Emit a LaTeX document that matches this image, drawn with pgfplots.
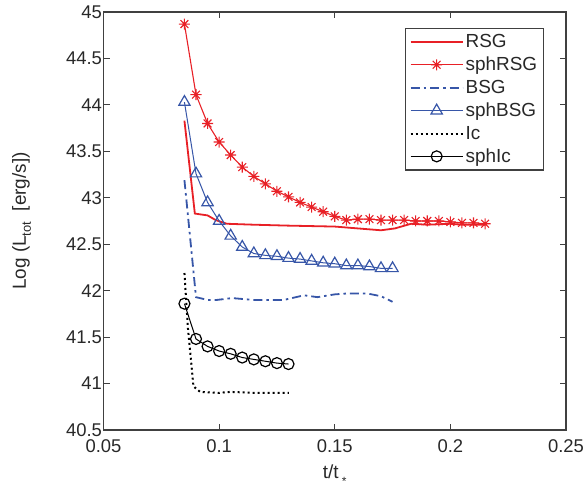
\documentclass[border=0pt]{standalone}
\usepackage{pgfplots}
\pgfplotsset{compat=1.18}
\usepackage{fontspec}
\setmainfont{Liberation Sans}
\usetikzlibrary{calc}
\definecolor{myred}{RGB}{232,32,38}
\definecolor{myblue}{RGB}{55,86,168}
\definecolor{axgray}{RGB}{64,64,64}
\definecolor{txtgray}{RGB}{40,40,40}
\newcommand\fs{\fontsize{18.5}{22}\selectfont}
\newcommand\fl{\fontsize{19}{22}\selectfont}
\pgfdeclareplotmark{ast8}{%
  \pgfpathmoveto{\pgfpoint{-\pgfplotmarksize}{0pt}}\pgfpathlineto{\pgfpoint{\pgfplotmarksize}{0pt}}%
  \pgfpathmoveto{\pgfpoint{0pt}{-\pgfplotmarksize}}\pgfpathlineto{\pgfpoint{0pt}{\pgfplotmarksize}}%
  \pgfpathmoveto{\pgfpoint{-0.7071\pgfplotmarksize}{-0.7071\pgfplotmarksize}}\pgfpathlineto{\pgfpoint{0.7071\pgfplotmarksize}{0.7071\pgfplotmarksize}}%
  \pgfpathmoveto{\pgfpoint{-0.7071\pgfplotmarksize}{0.7071\pgfplotmarksize}}\pgfpathlineto{\pgfpoint{0.7071\pgfplotmarksize}{-0.7071\pgfplotmarksize}}%
  \pgfusepathqstroke}
\begin{document}
\begin{tikzpicture}
\begin{axis}[
  width=462.5bp, height=418bp, scale only axis,
  xmin=0.05, xmax=0.25, ymin=40.5, ymax=45,
  xtick={0.05,0.1,0.15,0.2,0.25},
  ytick={40.5,41,41.5,42,42.5,43,43.5,44,44.5,45},
  tick align=inside, major tick length=6bp,
  axis line style={axgray, line width=1.2bp},
  every tick/.style={axgray, line width=1bp},
  tick label style={font=\fs, text=txtgray},
  /pgf/number format/assume math mode=true,
  xticklabel style={/pgf/number format/fixed, /pgf/number format/precision=2, yshift=-6bp},
  yticklabel style={/pgf/number format/fixed, /pgf/number format/precision=1, xshift=2bp},
  xlabel style={font=\fl, text=txtgray, yshift=-5bp},
  every axis y label/.style={at={(axis description cs:0,0.5)}, rotate=90, anchor=center, yshift=82bp, font=\fl, text=txtgray},
  xlabel={t/t\,\raisebox{-0.7ex}{\fontsize{12}{12}\selectfont *}},
  ylabel={Log (L\raisebox{-0.5ex}{\fontsize{13}{13}\selectfont tot}\ \ [erg/s])},
  legend style={at={(0.952,0.962)}, anchor=north east, draw=axgray, line width=1.2bp,
    font=\fl, text=txtgray, row sep=4bp, inner sep=4bp},
  legend cell align=left,
  legend image code/.code={\draw[mark repeat=2,mark phase=2,#1] plot coordinates {(0bp,0bp) (26bp,0bp) (52bp,0bp)};},
]
\addplot[myred, line width=1.8bp] coordinates {
(0.085,43.83) (0.0895,42.83) (0.095,42.81) (0.0985,42.76) (0.1034,42.72) (0.115,42.71) (0.13,42.70)
(0.15,42.69) (0.16,42.67) (0.17,42.65) (0.176,42.67) (0.183,42.72) (0.19,42.71) (0.2,42.72) (0.205,42.71) (0.215,42.71)};
\addlegendentry{RSG}
\addplot[myred, line width=1.1bp, mark=ast8, mark size=5.5bp, mark options={line width=1.1bp}] coordinates {
(0.085,44.87) (0.09,44.11) (0.095,43.80) (0.1,43.60) (0.105,43.46) (0.11,43.33) (0.115,43.23) (0.12,43.15)
(0.125,43.07) (0.13,43.01) (0.135,42.95) (0.14,42.90) (0.145,42.85) (0.15,42.80) (0.155,42.76) (0.16,42.77)
(0.165,42.77) (0.17,42.76) (0.175,42.76) (0.18,42.76) (0.185,42.75) (0.19,42.75) (0.195,42.75) (0.2,42.74)
(0.205,42.73) (0.21,42.73) (0.215,42.72)};
\addlegendentry{sphRSG}
\addplot[myblue, line width=1.8bp, dash pattern=on 9bp off 4bp on 2.5bp off 4bp] coordinates {
(0.085,43.19) (0.09,41.93) (0.095,41.90) (0.099,41.90) (0.1056,41.92) (0.115,41.90) (0.128,41.90)
(0.1367,41.95) (0.1425,41.93) (0.15,41.96) (0.1555,41.97) (0.164,41.97) (0.17,41.94) (0.175,41.88)};
\addlegendentry{BSG}
\addplot[myblue, line width=1bp, mark=triangle, mark size=6.5bp, mark options={line width=1.2bp, solid}] coordinates {
(0.085,44.03) (0.09,43.26) (0.095,42.95) (0.1,42.75) (0.105,42.59) (0.11,42.47) (0.115,42.40) (0.12,42.38)
(0.125,42.37) (0.13,42.35) (0.135,42.34) (0.14,42.32) (0.145,42.30) (0.15,42.29) (0.155,42.27) (0.16,42.27)
(0.165,42.26) (0.17,42.24) (0.175,42.24)};
\addlegendentry{sphBSG}
\addplot[black, line width=2bp, dash pattern=on 2bp off 3bp] coordinates {
(0.085,42.19) (0.0865,41.60) (0.0889,40.97) (0.0918,40.91) (0.1,40.90) (0.1049,40.91) (0.115,40.90) (0.1302,40.90)};
\addlegendentry{Ic}
\addplot[black, line width=1bp, mark=o, mark size=5.5bp, mark options={line width=1.2bp}] coordinates {
(0.085,41.86) (0.09,41.48) (0.095,41.40) (0.1,41.35) (0.105,41.32) (0.11,41.28) (0.115,41.26) (0.12,41.24)
(0.125,41.22) (0.13,41.21)};
\addlegendentry{sphIc}
\end{axis}
\pgfresetboundingbox
\path ($(current axis.south west)+(-103.5bp,-61bp)$) rectangle ($(current axis.north east)+(17bp,12bp)$);
\end{tikzpicture}
\end{document}
